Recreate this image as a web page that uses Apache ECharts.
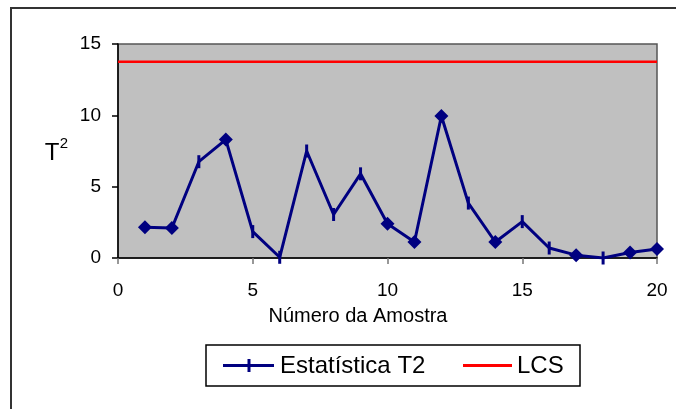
<!DOCTYPE html>
<html>
<head>
<meta charset="utf-8">
<script src="https://cdn.jsdelivr.net/npm/echarts@6/dist/echarts.min.js"></script>
<style>
html,body{margin:0;padding:0;background:#fff;}
#chart{width:676px;height:409px;}
</style>
</head>
<body>
<div id="chart"></div>
<script>
var samples = [1,2,3,4,5,6,7,8,9,10,11,12,13,14,15,16,17,18,19,20];
var t2Values = [2.15,2.1,6.75,8.3,1.85,0.05,7.5,3.05,5.9,2.4,1.12,9.95,3.85,1.12,2.55,0.7,0.2,0.0,0.38,0.63];
var lcsValue = 13.76;
var xTicks = [0,5,10,15,20];
var yTicks = [0,5,10,15];
var seriesNames = ['Estatística T2','LCS'];
var xTitle = 'Número da Amostra';
var yTitleMain = 'T';
var yTitleSup = '2';

var diamondPoints = [1,2,4,10,11,12,14,17,19,20];
var FONT = 'Liberation Sans, Arial, sans-serif';

var t2Data = samples.map(function(s,i){
  var d = {value:[s,t2Values[i]]};
  if (diamondPoints.indexOf(s) >= 0) { d.symbol = 'diamond'; d.symbolSize = 14; }
  return d;
});
var lcsData = [[xTicks[0],lcsValue],[xTicks[xTicks.length-1],lcsValue]];

var chart = echarts.init(document.getElementById('chart'));
chart.setOption({
  animation:false,
  backgroundColor:'#fff',
  textStyle:{fontFamily:FONT},
  grid:{left:118,right:19,top:44,bottom:151,show:true,backgroundColor:'#C0C0C0',borderColor:'#555',borderWidth:1.5},
  xAxis:{type:'value',min:xTicks[0],max:xTicks[xTicks.length-1],interval:5,
    axisLine:{show:true,onZero:false,lineStyle:{color:'#000',width:1.5}},
    axisTick:{show:true,length:6,lineStyle:{color:'#777',width:1.5}},
    axisLabel:{color:'#000',fontSize:19,margin:23,fontFamily:FONT},
    splitLine:{show:false}},
  yAxis:{type:'value',min:yTicks[0],max:yTicks[yTicks.length-1],interval:5,
    axisLine:{show:true,onZero:false,lineStyle:{color:'#000',width:1.5}},
    axisTick:{show:true,length:6,lineStyle:{color:'#000',width:1.5}},
    axisLabel:{color:'#000',fontSize:19,margin:17,fontFamily:FONT},
    splitLine:{show:false}},
  series:[
    {name:seriesNames[0],type:'line',data:t2Data,
      symbol:'rect',symbolSize:[3,13],showAllSymbol:true,
      lineStyle:{color:'#000080',width:3},
      itemStyle:{color:'#000080'},z:3},
    {name:seriesNames[1],type:'line',data:lcsData,symbol:'none',
      lineStyle:{color:'#FF0000',width:2.5},itemStyle:{color:'#FF0000'},z:2}
  ],
  graphic:[
    {type:'rect',shape:{x:11,y:8,width:700,height:460},style:{fill:'none',stroke:'#333',lineWidth:2},silent:true},
    {type:'text',x:358,y:316,style:{text:xTitle,fontSize:20,fill:'#000',textAlign:'center',textVerticalAlign:'middle',fontFamily:FONT}},
    {type:'text',x:52,y:153,style:{text:yTitleMain,fontSize:24,fill:'#000',textAlign:'center',textVerticalAlign:'middle',fontFamily:FONT}},
    {type:'text',x:64,y:144,style:{text:yTitleSup,fontSize:15,fill:'#000',textAlign:'center',textVerticalAlign:'middle',fontFamily:FONT}},
    // legend
    {type:'rect',shape:{x:206,y:345,width:374,height:41},style:{fill:'#fff',stroke:'#000',lineWidth:1.5},silent:true},
    {type:'line',shape:{x1:223,y1:365.5,x2:274,y2:365.5},style:{stroke:'#000080',lineWidth:3}},
    {type:'line',shape:{x1:249,y1:359,x2:249,y2:372},style:{stroke:'#000080',lineWidth:3}},
    {type:'text',x:280,y:366,style:{text:seriesNames[0],fontSize:24,fill:'#000',textAlign:'left',textVerticalAlign:'middle',fontFamily:FONT}},
    {type:'line',shape:{x1:463,y1:365.5,x2:512,y2:365.5},style:{stroke:'#FF0000',lineWidth:3}},
    {type:'text',x:517,y:366,style:{text:seriesNames[1],fontSize:24,fill:'#000',textAlign:'left',textVerticalAlign:'middle',fontFamily:FONT}}
  ]
});
</script>
</body>
</html>
